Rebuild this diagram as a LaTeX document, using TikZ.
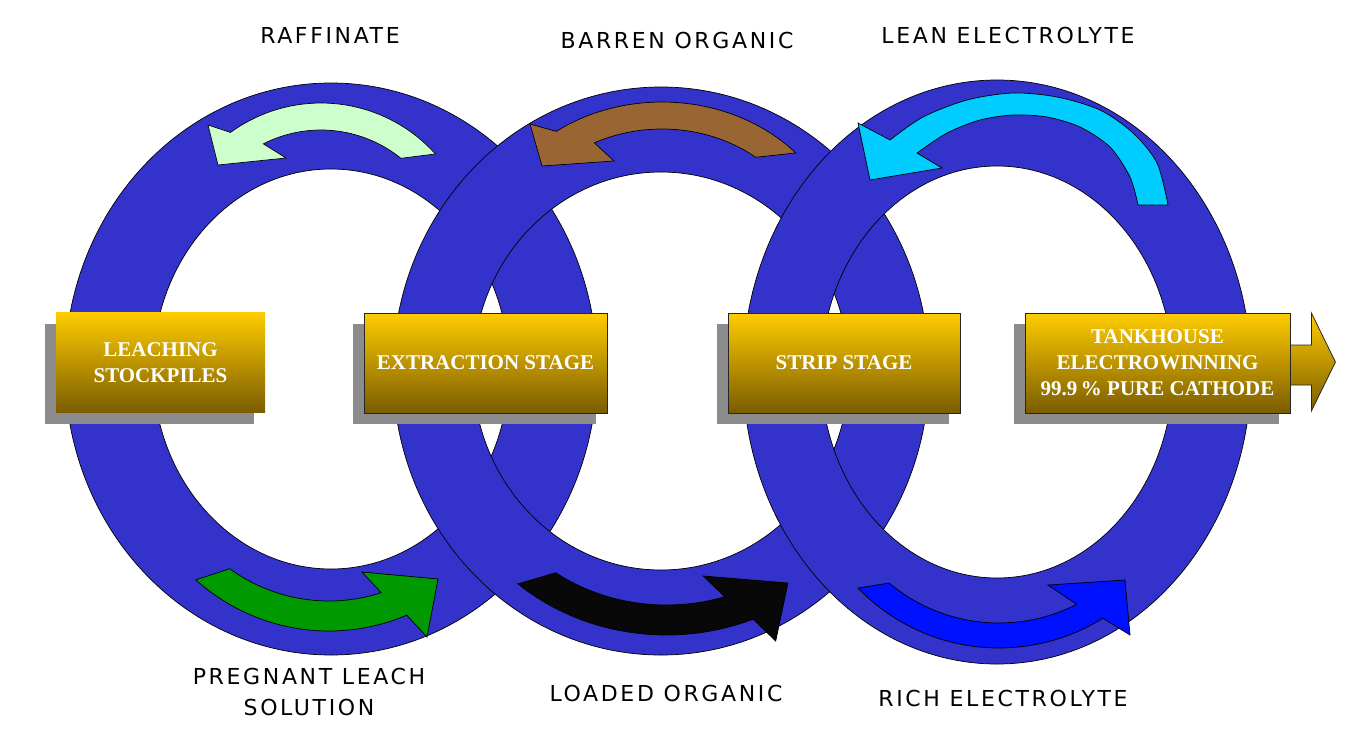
\documentclass[tikz,border=0pt]{standalone}
\usepackage{fontspec}
\setmainfont{Liberation Serif}
\newfontfamily\lblfont[LetterSpace=12]{DejaVu Sans}
\newfontfamily\boxfnt{Liberation Serif}
\usetikzlibrary{shadows,calc}
\definecolor{ringblue}{RGB}{51,51,204}
\definecolor{raff}{RGB}{204,255,204}
\definecolor{barren}{RGB}{153,102,51}
\definecolor{lean}{RGB}{0,204,255}
\definecolor{pls}{RGB}{0,153,0}
\definecolor{loaded}{RGB}{8,8,8}
\definecolor{rich}{RGB}{0,17,255}
\definecolor{boxtop}{RGB}{255,204,0}
\definecolor{boxbot}{RGB}{122,92,0}
\definecolor{shadowgray}{RGB}{140,140,140}
\begin{document}
\begin{tikzpicture}[x=1pt,y=-1pt,
  ring/.style={fill=ringblue, draw=black, line width=0.7pt, even odd rule},
  flow/.style={draw=black, line width=0.7pt, line join=miter},
  stagebox/.style={top color=boxtop, bottom color=boxbot, draw=black!85, line width=0.8pt,
    text=white, font=\boxfnt\bfseries\fontsize{21}{26}\selectfont, align=center,
    inner sep=0pt, minimum height=100pt,
    drop shadow={shadow xshift=-11pt, shadow yshift=-11pt, fill=shadowgray, opacity=1}},
  lbl/.style={font=\lblfont\fontsize{22}{31}\selectfont, align=center, inner sep=0pt}]
\useasboundingbox (0,0) rectangle (1372,745);

% rings
\path[ring] (331,369) ellipse [x radius=266, y radius=286] (331,369) ellipse [x radius=178, y radius=200];
\path[ring] (661,371) ellipse [x radius=268, y radius=284] (661,371) ellipse [x radius=188, y radius=199];
\path[ring] (997,372) ellipse [x radius=254, y radius=292] (997,372) ellipse [x radius=176, y radius=206];

% raffinate arrow
\path[flow, fill=raff]
  plot[domain=-42:-126, samples=40, variable=\t] ({321+154*cos(\t)},{257+154*sin(\t)})
  -- (208,125) -- (218,165) -- (286,158)
  -- plot[domain=-117:-51, samples=40, variable=\t] ({321+127*cos(\t)},{257+127*sin(\t)}) -- cycle;

% barren organic arrow
\path[flow, fill=barren]
  plot[domain=-42:-126, samples=40, variable=\t] ({662+180*cos(\t)},{256+154*sin(\t)})
  -- (530,124) -- (542,166) -- (614,161)
  -- plot[domain=-117:-51, samples=40, variable=\t] ({662+149*cos(\t)},{256+127*sin(\t)}) -- cycle;

% lean electrolyte arrow
\path[flow, fill=lean]
  plot[smooth] coordinates {(1168,205) (1157,163) (1133,133) (1100,110) (1057,97) (1013,93) (967,100) (923,117) (890,140)}
  -- (858,123) -- (870,180) -- (942,168) -- (917,153)
  -- plot[smooth] coordinates {(917,153) (947,133) (980,120) (1013,115) (1047,117) (1080,127) (1110,147) (1130,177) (1138,205)} -- cycle;

% pregnant leach solution arrow
\path[flow, fill=pls]
  plot[domain=132:67, samples=40, variable=\t] ({329+199*cos(\t)},{432+199*sin(\t)})
  -- (427,637) -- (438,579) -- (362,572)
  -- plot[domain=72:126, samples=40, variable=\t] ({329+169*cos(\t)},{432+169*sin(\t)}) -- cycle;

% loaded organic arrow
\begin{scope}[shift={(299.6,4)}, xscale=1.115]
\path[flow, fill=loaded]
  plot[domain=132:67, samples=40, variable=\t] ({329+199*cos(\t)},{432+199*sin(\t)})
  -- (427,637) -- (438,579) -- (362,572)
  -- plot[domain=72:126, samples=40, variable=\t] ({329+169*cos(\t)},{432+169*sin(\t)}) -- cycle;
\end{scope}

% rich electrolyte arrow
\path[flow, fill=rich]
  plot[domain=136:58, samples=40, variable=\t] ({999+196*cos(\t)},{452+196*sin(\t)})
  -- (1130,635) -- (1125,580) -- (1048,585)
  -- plot[domain=63:130, samples=40, variable=\t] ({999+171*cos(\t)},{452+171*sin(\t)}) -- cycle;

% stage boxes
\node[stagebox, draw=none, minimum width=209pt] (leach) at (160.5,362.5) {LEACHING\\STOCKPILES};
\node[stagebox, minimum width=243pt] (extr) at (485.5,363) {EXTRACTION STAGE};
\node[stagebox, minimum width=232pt] (strip) at (844,363) {STRIP STAGE};
\node[stagebox, minimum width=265pt] (tank) at (1157.5,363) {TANKHOUSE\\ELECTROWINNING\\99.9\,\% PURE CATHODE};
\path[top color=boxtop, bottom color=boxbot, draw=black!85, line width=0.8pt]
  ($(tank.east)+(0,-18)$) -- ++(21,0) -- ++(0,-32) -- ($(tank.east)+(45,-1)$)
  -- ($(tank.east)+(21,48)$) -- ++(0,-26) -- ($(tank.east)+(0,22)$) -- cycle;

% labels
\node[lbl] (lraff) at (330,35) {RAFFINATE};
\node[lbl] (lbarren) at (677,40) {BARREN ORGANIC};
\node[lbl] (llean) at (1008,35) {LEAN ELECTROLYTE};
\node[lbl] (lpls) at (309,692) {PREGNANT LEACH\\SOLUTION};
\node[lbl] (lload) at (666,693) {LOADED ORGANIC};
\node[lbl] (lrich) at (1003,698) {RICH ELECTROLYTE};
\end{tikzpicture}
\end{document}
